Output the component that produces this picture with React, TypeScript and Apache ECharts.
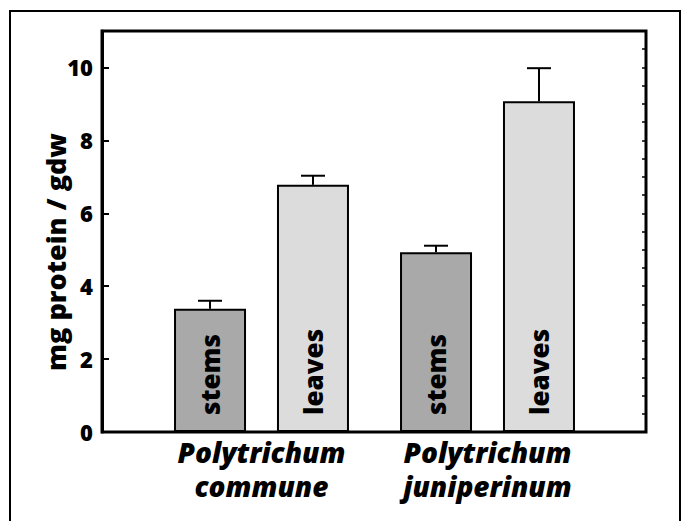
import React, { useEffect, useRef } from "react";
import * as echarts from "echarts";

const categories = ["Polytrichum\ncommune", "Polytrichum\njuniperinum"];
const stemsValues = [3.38, 4.93];
const leavesValues = [6.78, 9.07];
const stemsErrors = [0.22, 0.18];
const leavesErrors = [0.25, 0.91];
const yTickLabels = [0, 2, 4, 6, 8, 10];

const BAR_WIDTH = 72;
const BAR_GAP = 0.43;
const FONT = "Open Sans";
const WEIGHT = 800;

export default function App() {
  const ref = useRef<HTMLDivElement>(null);
  useEffect(() => {
    if (!ref.current) return;
    const chart = echarts.init(ref.current, null, { renderer: "svg" });
    const offset = (BAR_WIDTH + BAR_WIDTH * BAR_GAP) / 2;
    const errData: number[][] = [];
    categories.forEach((_, i) => {
      errData.push([i, stemsValues[i], stemsErrors[i], -1]);
      errData.push([i, leavesValues[i], leavesErrors[i], 1]);
    });
    const labelStyle = (txt: string) => ({
      show: true,
      formatter: txt,
      position: "insideBottom",
      distance: 17,
      rotate: 90,
      align: "left",
      verticalAlign: "middle",
      fontSize: 26,
      fontWeight: WEIGHT,
      fontFamily: FONT,
      color: "#000",
    });
    chart.setOption({
      animation: false,
      backgroundColor: "#fff",
      graphic: [
        {
          type: "rect",
          shape: { x: 10, y: 11, width: 670, height: 530 },
          style: { fill: "none", stroke: "#000", lineWidth: 2 },
          z: 100,
        },
        {
          type: "text",
          x: 55,
          y: 252,
          rotation: Math.PI / 2,
          style: {
            text: "mg protein / gdw",
            fontSize: 27,
            fontWeight: WEIGHT,
            fontFamily: FONT,
            fill: "#000",
            align: "center",
            verticalAlign: "middle",
          },
        },
      ],
      grid: [
        { left: 102, top: 31, right: 39, bottom: 89, show: true, borderColor: "#000", borderWidth: 3, backgroundColor: "transparent" },
        { left: 148.5, top: 31, right: 84.5, bottom: 89 },
      ],
      xAxis: [
        { gridIndex: 0, type: "value", min: 0, max: 1, show: false },
        {
          gridIndex: 1,
          type: "category",
          data: categories,
          axisLine: { show: false },
          axisTick: { show: false },
          axisLabel: {
            interval: 0,
            hideOverlap: false,
            fontSize: 28,
            fontWeight: WEIGHT,
            fontStyle: "italic",
            fontFamily: FONT,
            lineHeight: 34,
            color: "#000",
            margin: 3,
          },
        },
      ],
      yAxis: [
        {
          gridIndex: 0,
          type: "value",
          min: 0,
          max: 11,
          interval: 2,
          axisLine: { show: true, lineStyle: { color: "#000", width: 3 } },
          axisTick: { show: true, inside: true, length: 7, lineStyle: { color: "#000", width: 2 } },
          axisLabel: {
            formatter: (v: number) => (yTickLabels.includes(v) ? String(v) : ""),
            fontSize: 22,
            fontWeight: WEIGHT,
            fontFamily: FONT,
            color: "#000",
            margin: 9,
          },
          splitLine: { show: false },
        },
        {
          gridIndex: 0,
          type: "value",
          min: 0,
          max: 11,
          interval: 0.5,
          axisLine: { show: false },
          axisTick: { show: true, inside: true, length: 4, lineStyle: { color: "#000", width: 1.5 } },
          axisLabel: { show: false },
          splitLine: { show: false },
        },
        { gridIndex: 1, type: "value", min: 0, max: 11, show: false },
      ],
      series: [
        {
          name: "stems",
          type: "bar",
          xAxisIndex: 1,
          yAxisIndex: 2,
          data: stemsValues,
          barWidth: BAR_WIDTH,
          barGap: BAR_GAP * 100 + "%",
          itemStyle: { color: "#a9a9a9", borderColor: "#000", borderWidth: 2 },
          label: labelStyle("stems"),
        },
        {
          name: "leaves",
          type: "bar",
          xAxisIndex: 1,
          yAxisIndex: 2,
          data: leavesValues,
          barWidth: BAR_WIDTH,
          barGap: BAR_GAP * 100 + "%",
          itemStyle: { color: "#dcdcdc", borderColor: "#000", borderWidth: 2 },
          label: labelStyle("leaves"),
        },
        {
          type: "custom",
          xAxisIndex: 1,
          yAxisIndex: 2,
          data: errData,
          z: 10,
          renderItem: (params: any, api: any) => {
            const cat = api.value(0);
            const val = api.value(1);
            const err = api.value(2);
            const sign = api.value(3);
            const base = api.coord([cat, val]);
            const top = api.coord([cat, val + err]);
            const x = base[0] + sign * offset;
            const capHalf = 12;
            const style = { stroke: "#000", lineWidth: 2 };
            return {
              type: "group",
              children: [
                { type: "line", shape: { x1: x, y1: base[1], x2: x, y2: top[1] }, style },
                { type: "line", shape: { x1: x - capHalf, y1: top[1], x2: x + capHalf, y2: top[1] }, style },
              ],
            };
          },
        },
      ],
    });
    return () => chart.dispose();
  }, []);
  return <div ref={ref} style={{ position: "absolute", left: 0, top: 0, width: 685, height: 521 }} />;
}
